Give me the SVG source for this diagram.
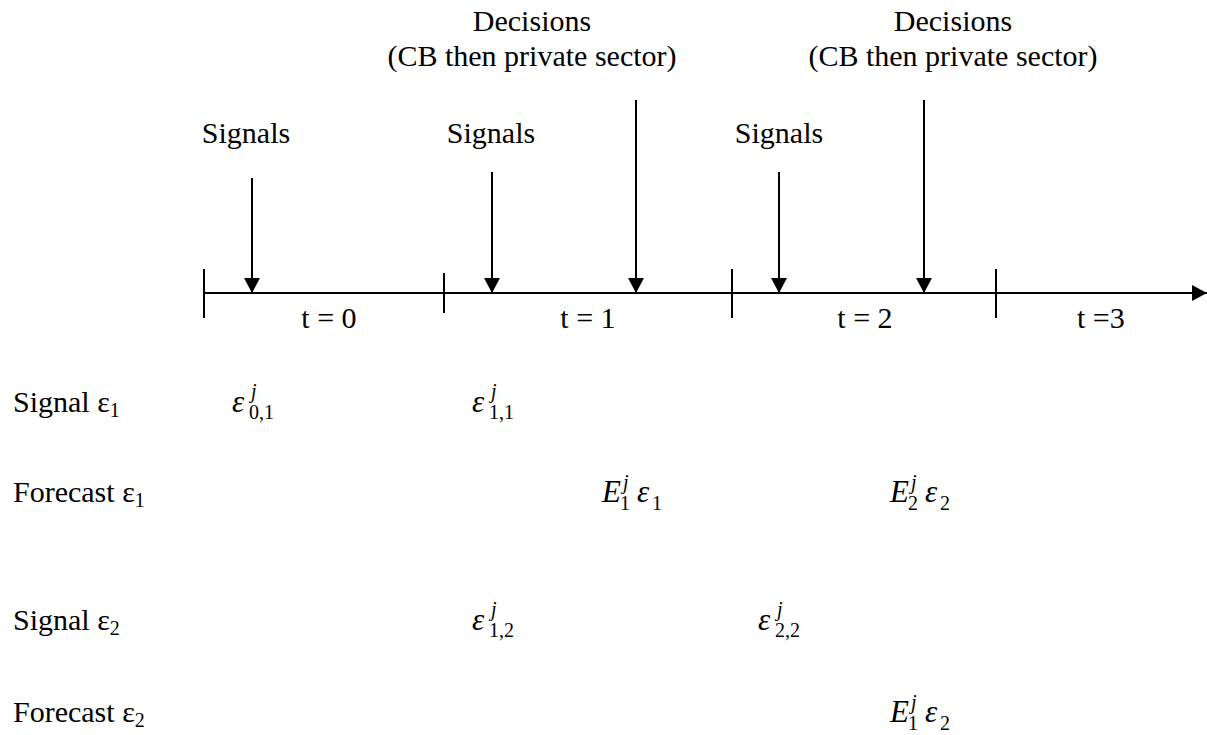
<svg xmlns="http://www.w3.org/2000/svg" width="1207" height="735" viewBox="0 0 1207 735">
<defs>
<marker id="ah" markerUnits="userSpaceOnUse" markerWidth="16" markerHeight="16" viewBox="0 0 16 16" refX="15" refY="8" orient="auto">
<path d="M0,0 L15,8 L0,16 Z" fill="#000"/>
</marker>
</defs>
<style>
text{font-family:"Liberation Serif","Times New Roman",serif;fill:#000}
.l{font-size:30px}
.c{text-anchor:middle}
.m{font-size:31px;font-style:italic}
.s{font-size:20px}
.si{font-size:20px;font-style:italic}
.ln{stroke:#000;stroke-width:2;fill:none}
</style>
<rect width="1207" height="735" fill="#fff"/>
<g id="connectors">
<line class="ln" x1="204" y1="293" x2="1207" y2="293" marker-end="url(#ah)"/>
<line class="ln" x1="204" y1="269" x2="204" y2="318"/>
<line class="ln" x1="444" y1="273" x2="444" y2="313"/>
<line class="ln" x1="732" y1="269" x2="732" y2="318"/>
<line class="ln" x1="996" y1="269" x2="996" y2="318"/>
<line class="ln" x1="252" y1="178" x2="252" y2="293" marker-end="url(#ah)"/>
<line class="ln" x1="492" y1="172" x2="492" y2="293" marker-end="url(#ah)"/>
<line class="ln" x1="636" y1="100" x2="636" y2="293" marker-end="url(#ah)"/>
<line class="ln" x1="779" y1="172" x2="779" y2="293" marker-end="url(#ah)"/>
<line class="ln" x1="924" y1="100" x2="924" y2="293" marker-end="url(#ah)"/>
</g>
<g id="decisions1"><text class="l c" x="532" y="31">Decisions</text><text class="l c" x="532" y="66">(CB then private sector)</text></g>
<g id="decisions2"><text class="l c" x="953" y="31">Decisions</text><text class="l c" x="953" y="66">(CB then private sector)</text></g>
<g id="signals0"><text class="l c" x="246" y="143">Signals</text></g>
<g id="signals1"><text class="l c" x="491" y="143">Signals</text></g>
<g id="signals2"><text class="l c" x="779" y="143">Signals</text></g>
<g id="t0"><text class="l c" x="329" y="328">t = 0</text></g>
<g id="t1"><text class="l c" x="588" y="328">t = 1</text></g>
<g id="t2"><text class="l c" x="865" y="328">t = 2</text></g>
<g id="t3"><text class="l" x="1077" y="328">t =3</text></g>
<g id="row-signal1"><text class="l" x="13" y="412">Signal ε<tspan class="s" dy="5">1</tspan></text></g>
<g id="row-forecast1"><text class="l" x="13" y="502">Forecast ε<tspan class="s" dy="5">1</tspan></text></g>
<g id="row-signal2"><text class="l" x="13" y="630">Signal ε<tspan class="s" dy="5">2</tspan></text></g>
<g id="row-forecast2"><text class="l" x="13" y="722">Forecast ε<tspan class="s" dy="5">2</tspan></text></g>
<g id="eps01"><text class="m" x="232" y="412">ε</text><text class="si" x="251" y="398">j</text><text class="s" x="249" y="419">0,1</text></g>
<g id="eps11"><text class="m" x="472" y="412">ε</text><text class="si" x="491" y="398">j</text><text class="s" x="489" y="419">1,1</text></g>
<g id="E1eps1"><text class="m" x="602" y="502">E</text><text class="si" x="623" y="489">j</text><text class="s" x="620" y="510">1</text><text class="m" x="637" y="502">ε</text><text class="s" x="652" y="510">1</text></g>
<g id="E2eps2"><text class="m" x="890" y="502">E</text><text class="si" x="911" y="489">j</text><text class="s" x="908" y="510">2</text><text class="m" x="925" y="502">ε</text><text class="s" x="940" y="510">2</text></g>
<g id="eps12"><text class="m" x="472" y="630">ε</text><text class="si" x="491" y="616">j</text><text class="s" x="489" y="637">1,2</text></g>
<g id="eps22"><text class="m" x="758" y="630">ε</text><text class="si" x="777" y="616">j</text><text class="s" x="775" y="637">2,2</text></g>
<g id="E1eps2"><text class="m" x="890" y="722">E</text><text class="si" x="911" y="709">j</text><text class="s" x="908" y="730">1</text><text class="m" x="925" y="722">ε</text><text class="s" x="940" y="730">2</text></g>
</svg>
